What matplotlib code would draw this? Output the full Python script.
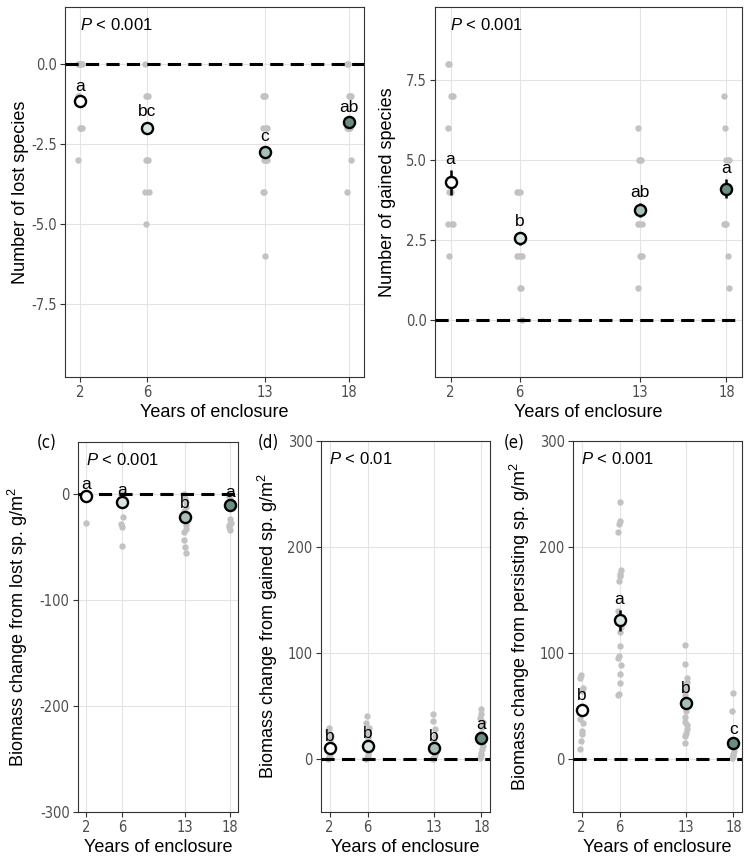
import matplotlib
matplotlib.use("Agg")
import matplotlib.pyplot as plt
from matplotlib import font_manager
import numpy as np

plt.rcParams['font.family'] = ['Liberation Sans', 'DejaVu Sans']
plt.rcParams['mathtext.fontset'] = 'custom'
plt.rcParams['mathtext.rm'] = 'Liberation Sans'
plt.rcParams['mathtext.it'] = 'Liberation Sans:italic'
plt.rcParams['axes.unicode_minus'] = False

years = [2, 6, 13, 18]
fills = ['#ffffff', '#d9e6df', '#a7c0b4', '#6b8f7f']

# raw plot values per year (gray points)
lost_sp = [[0, 0, 0, 0, 0, -1, -1, -2, -2, -2, -3],
           [0, -1, -1, -1, -2, -2, -3, -3, -3, -4, -4, -5],
           [-1, -1, -1, -2, -2, -2, -3, -3, -3, -3, -4, -4, -6],
           [0, 0, -1, -1, -1, -2, -2, -2, -2, -3, -4]]
gain_sp = [[8, 8, 7, 7, 7, 6, 4, 4, 3, 3, 3, 2],
           [4, 4, 4, 2, 2, 2, 2, 1, 1, 0],
           [6, 5, 5, 5, 3, 3, 3, 2, 2, 2, 1],
           [7, 6, 5, 5, 5, 3, 3, 3, 2, 1]]
bio_lost = [[0, 0, 0, 0, 0, 0, -27],
            [0, 0, 0, -3, -22, -28, -31, -49],
            [0, -2, -5, -8, -12, -16, -20, -24, -29, -33, -36, -43, -50, -56],
            [0, -2, -5, -24, -27, -29, -31, -34]]
bio_gain = [[0, 2, 4, 6, 8, 10, 12, 15, 18, 22, 26, 29],
            [0, 1, 3, 5, 8, 12, 16, 20, 25, 29, 34, 41],
            [0, 1, 2, 4, 6, 8, 12, 16, 22, 28, 36, 42],
            [1, 4, 6, 9, 12, 16, 20, 25, 30, 35, 39, 42, 47]]
bio_pers = [[9, 17, 24, 26, 34, 38, 43, 50, 64, 67, 76, 79],
            [60, 61, 72, 80, 89, 95, 97, 107, 120, 125, 140, 168, 173, 175, 178, 214, 222, 225, 242],
            [15, 22, 25, 28, 32, 35, 40, 45, 50, 55, 60, 65, 70, 73, 76, 90, 108],
            [1, 3, 5, 8, 15, 45, 62]]

# model means and standard errors
lost_mean = [-1.15, -2.0, -2.75, -1.8]
lost_se = [0.12, 0.18, 0.17, 0.12]
gain_mean = [4.3, 2.55, 3.45, 4.1]
gain_se = [0.38, 0.2, 0.22, 0.3]
blost_mean = [-2, -8, -22, -10]
blost_se = [1, 2, 3, 2]
bgain_mean = [10, 12, 10, 20]
bgain_se = [2, 2, 2, 3]
bpers_mean = [46, 131, 53, 15]
bpers_se = [4, 10, 4, 3]

lost_letters = ['a', 'bc', 'c', 'ab']
gain_letters = ['a', 'b', 'ab', 'a']
blost_letters = ['a', 'a', 'b', 'a']
bgain_letters = ['b', 'b', 'b', 'a']
bpers_letters = ['b', 'a', 'b', 'c']

W, H = 748, 863
fig = plt.figure(figsize=(W / 100, H / 100), dpi=100)
fig.patch.set_facecolor('white')

# narrow font for tick labels, if one is installed
narrow_file = None
for f in font_manager.fontManager.ttflist:
    low = f.fname.lower()
    if 'liberationsansnarrow-regular' in low:
        narrow_file = f.fname
        break
if narrow_file is None:
    for f in font_manager.fontManager.ttflist:
        low = f.fname.lower()
        if 'dejavusanscondensed.ttf' in low:
            narrow_file = f.fname
            break
if narrow_file is not None:
    narrow = font_manager.FontProperties(fname=narrow_file, size=10.5)
else:
    narrow = font_manager.FontProperties(family='Liberation Sans', size=10)


def make_ax(l, r, t, b):
    return fig.add_axes([l / W, 1 - b / H, (r - l) / W, (b - t) / H])


def panel(ax, raw, mean, se, letters, ptxt, ylab, yticks, ylim, fmt, ylab_x):
    ax.set_xlim(1.1, 18.9)
    ax.set_ylim(*ylim)
    ax.set_xticks(years)
    ax.set_yticks(yticks)
    ax.set_yticklabels([fmt % v for v in yticks])
    ax.grid(True, color='#e3e3e3', lw=0.8, zorder=0)
    ax.set_axisbelow(True)
    for s in ax.spines.values():
        s.set_color('#333333')
        s.set_linewidth(0.8)
    ax.tick_params(length=3.5, width=0.8, color='#333333', labelcolor='#4d4d4d',
                   pad=2.5)
    for lab in ax.get_xticklabels() + ax.get_yticklabels():
        lab.set_fontproperties(narrow)
    for i, yr in enumerate(years):
        vals = np.array(raw[i])
        jit = ((np.arange(len(vals)) % 5) - 2) * 0.06
        ax.plot(yr + jit, vals, 'o', ms=4.6, color='#c2c2c2', mec='none', zorder=2)
    ax.axhline(0, color='black', lw=2.2, dashes=(4.3, 2.4), zorder=3)
    ax.errorbar(years, mean, yerr=se, fmt='none', ecolor='black', elinewidth=1.8,
                capsize=0, zorder=4)
    for i, yr in enumerate(years):
        ax.plot(yr, mean[i], 'o', ms=8, mfc=fills[i], mec='black', mew=1.7, zorder=5)
        ax.annotate(letters[i], (yr, mean[i] + se[i]), xytext=(0, 2),
                    textcoords='offset points', ha='center', va='bottom',
                    fontsize=12.5, zorder=6)
    ax.text(0.05, 0.951, r'$P$ ' + ptxt, transform=ax.transAxes, fontsize=12,
            ha='left', va='center')
    ax.set_xlabel('Years of enclosure', fontsize=13)
    ax.xaxis.set_label_coords(0.5, -0.095)
    ax.xaxis.label.set_va('center')
    ax.set_ylabel(ylab, fontsize=13)
    ax.yaxis.set_label_coords(ylab_x, 0.5)
    ax.yaxis.label.set_va('center')


ax1 = make_ax(65, 364, 7, 377)
panel(ax1, lost_sp, lost_mean, lost_se, lost_letters, '< 0.001',
      'Number of lost species', [-7.5, -5.0, -2.5, 0.0], (-9.78, 1.78), '%.1f', -0.150)

ax2 = make_ax(435, 742, 7, 377)
panel(ax2, gain_sp, gain_mean, gain_se, gain_letters, '< 0.001',
      'Number of gained species', [0.0, 2.5, 5.0, 7.5], (-1.78, 9.78), '%.1f', -0.156)

ax3 = make_ax(78, 238, 442, 812)
panel(ax3, bio_lost, blost_mean, blost_se, blost_letters, '< 0.001',
      'Biomass change from lost sp. g/m$^2$', [-300, -200, -100, 0], (-300, 49), '%d', -0.375)

ax4 = make_ax(321, 490, 441, 812)
panel(ax4, bio_gain, bgain_mean, bgain_se, bgain_letters, '< 0.01',
      'Biomass change from gained sp. g/m$^2$', [0, 100, 200, 300], (-50, 300), '%d', -0.314)

ax5 = make_ax(573, 742, 441, 812)
panel(ax5, bio_pers, bpers_mean, bpers_se, bpers_letters, '< 0.001',
      'Biomass change from persisting sp. g/m$^2$', [0, 100, 200, 300], (-50, 300), '%d', -0.314)

tag_font = narrow.copy()
tag_font.set_size(12)
for tag, px in [('(c)', 47), ('(d)', 268), ('(e)', 514)]:
    fig.text(px / W, 1 - 443 / H, tag, ha='center', va='center', fontproperties=tag_font)

fig.savefig('out.png', dpi=100, facecolor='white')
